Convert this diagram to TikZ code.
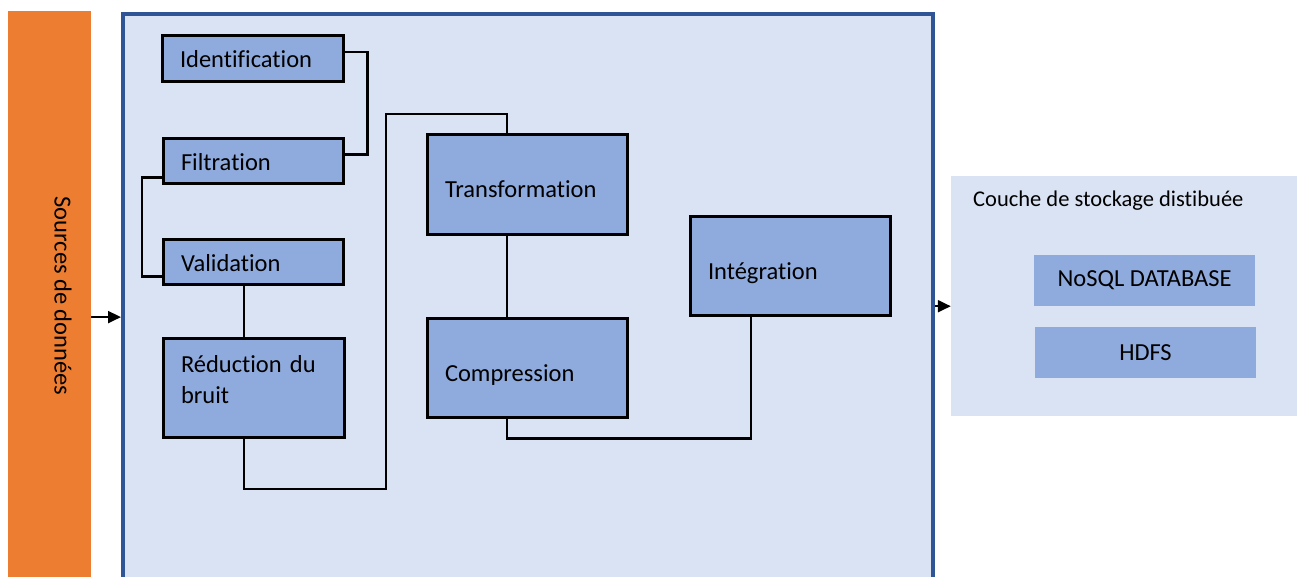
\documentclass[tikz,border=0pt]{standalone}
\usepackage{fontspec}
\setmainfont{Carlito}[Ligatures=CommonOff]
\usetikzlibrary{arrows.meta}

\definecolor{orangebar}{RGB}{237,125,49}
\definecolor{fondbleu}{RGB}{218,227,243}
\definecolor{bordbleu}{RGB}{47,85,151}
\definecolor{boitebleu}{RGB}{143,170,220}

\tikzset{
  etape/.style={draw=black, line width=3.2pt, fill=boitebleu, inner xsep=17.5pt, align=left, text height=19pt, text depth=0pt},
  lien/.style={draw=black, line width=2.8pt},
  fleche/.style={draw=black, line width=2pt, -{Triangle[length=13pt,width=12pt]}},
  stock/.style={fill=boitebleu, minimum width=221pt, minimum height=51pt},
}

\begin{document}
\begin{tikzpicture}[x=1pt,y=1pt,yscale=-1,font=\fontsize{24.5}{31}\selectfont]
\useasboundingbox (0,0) rectangle (1297,577);
\clip (0,0) rectangle (1297,577);
\fill[white] (0,0) rectangle (1297,577);

%Shape: sources
\node[fill=orangebar, minimum width=83pt, minimum height=580pt] (sources) at (49.5,301) {};
% Text Node
\node[rotate=-90] (sourcestxt) at (63,296) {Sources de données};

%Shape: traitement
\node[fill=fondbleu, draw=bordbleu, line width=4pt, minimum width=810pt, minimum height=590pt] (traitement) at (528,309) {};

%Shape: stockage
\node[fill=fondbleu, minimum width=360pt, minimum height=240pt] (stockage) at (1131,296) {};
% Text Node
\node[anchor=base west, inner sep=0pt, font=\fontsize{22.5}{28}\selectfont] (stockagetxt) at (973,207) {Couche de stockage distibuée};
\node[stock] (nosql) at (1144.5,280.5) {NoSQL DATABASE};
\node[stock] (hdfs) at (1145.5,352.5) {HDFS};

% Etapes
\node[etape, minimum width=181pt, minimum height=46pt, text width=146pt] (ident) at (253,58.5) {Identification};
\node[etape, minimum width=180pt, minimum height=45pt, text width=145pt] (filt) at (253.5,161) {Filtration};
\node[etape, minimum width=180pt, minimum height=45pt, text width=145pt] (valid) at (253.5,262) {Validation};
\node[etape, minimum width=181pt, minimum height=99pt, text width=146pt, text height=18pt, text depth=50pt] (reduc) at (254,388) {Réduction du\\bruit};
\node[etape, minimum width=200pt, minimum height=100pt, text width=165pt, text height=26pt] (transf) at (527.5,184.5) {Transformation};
\node[etape, minimum width=200pt, minimum height=99pt, text width=165pt, text height=26pt] (compr) at (527.5,368) {Compression};
\node[etape, minimum width=200pt, minimum height=99pt, text width=165pt, text height=26pt] (integr) at (790.5,266) {Intégration};

% Liens
\coordinate (colA) at (244,0);
\coordinate (colB) at (507,0);
\coordinate (colC) at (751,0);
\coordinate (coude1) at (386,489);
\coordinate (coude2) at (386,114);

\draw[lien] (ident.4) -- ++(22,0) |- (filt.4);
\draw[lien] (filt.190) -- ++(-20,0) |- (valid.189);
\draw[lien] (valid.south -| colA) -- (reduc.north -| colA);
\draw[lien] (reduc.south -| colA) |- (coude1) -- (coude2) -| (transf.north -| colB);
\draw[lien] (transf.south -| colB) -- (compr.north -| colB);
\draw[lien] (compr.south -| colB) -- ++(0,19) -| (integr.south -| colC);

% Fleches
\draw[fleche] (sources.east |- integr.south) -- (traitement.west |- integr.south);
\draw[fleche] (traitement.east |- nosql.south) -- (stockage.west |- nosql.south);
\end{tikzpicture}
\end{document}
